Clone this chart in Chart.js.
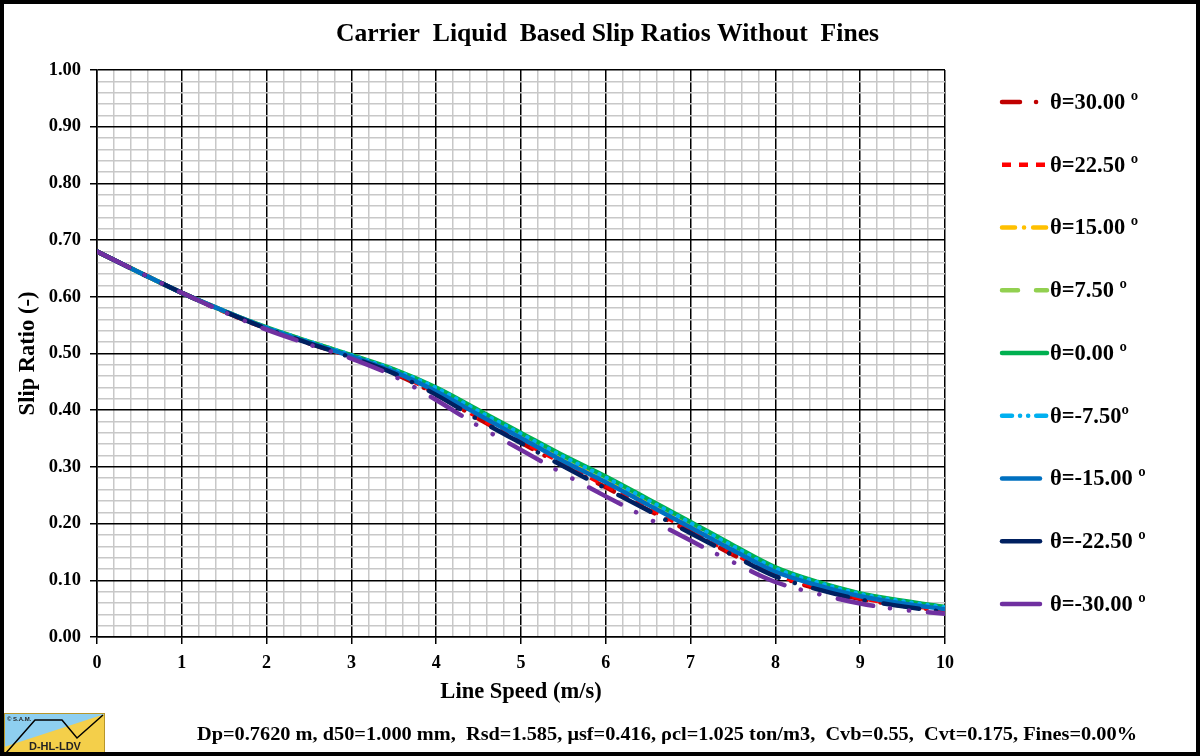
<!DOCTYPE html>
<html lang="en">
<head>
<meta charset="UTF-8">
<title>Carrier Liquid Based Slip Ratios Without Fines</title>
<script src="https://cdn.jsdelivr.net/npm/chart.js@4.4.1/dist/chart.umd.min.js"></script>
<style>
  html, body { margin: 0; padding: 0; background: #ffffff; }
  #wrap { width: 1200px; height: 756px; }
</style>
</head>
<body>
<div id="wrap"><canvas id="c" width="1200" height="756"></canvas></div>
<script>
// line speed (m/s)
const speeds = [0, 0.5, 1, 1.5, 2, 2.5, 3, 3.5, 4, 4.5, 5, 5.5, 6, 6.5, 7, 7.5, 8, 8.5, 9, 9.5, 10];

// slip ratio per inclination angle
const slipP300 = [0.680, 0.643, 0.607, 0.574, 0.544, 0.518, 0.494, 0.465, 0.428, 0.385, 0.343, 0.302, 0.264, 0.224, 0.185, 0.145, 0.109, 0.085, 0.067, 0.055, 0.046];
const slipP225 = [0.680, 0.643, 0.607, 0.574, 0.544, 0.519, 0.494, 0.467, 0.430, 0.387, 0.346, 0.306, 0.267, 0.228, 0.188, 0.148, 0.111, 0.088, 0.069, 0.057, 0.048];
const slipP150 = [0.680, 0.643, 0.607, 0.575, 0.545, 0.520, 0.496, 0.470, 0.436, 0.394, 0.354, 0.314, 0.276, 0.236, 0.196, 0.156, 0.118, 0.093, 0.073, 0.061, 0.051];
const slipP075 = [0.680, 0.643, 0.607, 0.575, 0.546, 0.521, 0.497, 0.471, 0.438, 0.397, 0.357, 0.317, 0.280, 0.240, 0.200, 0.159, 0.121, 0.095, 0.075, 0.062, 0.052];
const slipZero = [0.680, 0.643, 0.607, 0.575, 0.546, 0.521, 0.497, 0.472, 0.440, 0.400, 0.360, 0.320, 0.283, 0.243, 0.203, 0.162, 0.123, 0.097, 0.077, 0.064, 0.053];
const slipM075 = [0.680, 0.643, 0.607, 0.575, 0.546, 0.521, 0.497, 0.471, 0.439, 0.398, 0.358, 0.318, 0.281, 0.241, 0.201, 0.160, 0.121, 0.096, 0.076, 0.063, 0.052];
const slipM150 = [0.680, 0.643, 0.607, 0.575, 0.545, 0.519, 0.495, 0.468, 0.433, 0.392, 0.351, 0.310, 0.273, 0.233, 0.193, 0.153, 0.115, 0.091, 0.072, 0.059, 0.049];
const slipM225 = [0.680, 0.643, 0.607, 0.574, 0.544, 0.518, 0.493, 0.465, 0.427, 0.383, 0.342, 0.301, 0.262, 0.223, 0.183, 0.144, 0.107, 0.084, 0.066, 0.054, 0.044];
const slipM300 = [0.680, 0.643, 0.607, 0.573, 0.542, 0.516, 0.491, 0.460, 0.418, 0.372, 0.330, 0.288, 0.248, 0.209, 0.170, 0.132, 0.097, 0.076, 0.059, 0.048, 0.041];

const seriesLabels = ['θ=30.00 º', 'θ=22.50 º', 'θ=15.00 º', 'θ=7.50 º', 'θ=0.00 º', 'θ=-7.50º', 'θ=-15.00 º', 'θ=-22.50 º', 'θ=-30.00 º'];
const seriesValues = [slipP300, slipP225, slipP150, slipP075, slipZero, slipM075, slipM150, slipM225, slipM300];
const seriesColors = ['#C00000', '#FF0000', '#FFC000', '#92D050', '#00B050', '#00B0F0', '#0070C0', '#002060', '#7030A0'];
const seriesDash = [[18, 14, 0.1, 14], [9, 8], [13, 9, 0.1, 9], [16, 18], [], [0.1, 8], [], [36, 17, 0.1, 19], [36, 17, 0.1, 19, 0.1, 19]];
const seriesCap = ['round', 'butt', 'round', 'round', 'round', 'round', 'round', 'round', 'round'];

// legend samples
const legendDash = [[18, 16, 0.1, 100], [9, 8], [13, 9, 0.1, 9], [16, 18], [], [10, 8, 0.1, 8, 0.1, 8], [], [], []];
const legendLineEnd = [1045, 1048, 1047, 1047, 1047, 1047, 1040, 1040, 1040];

const SERIF = "'Liberation Serif', 'Times New Roman', serif";

const isMajorX = v => Math.abs(v - Math.round(v)) < 1e-6;
const isMajorY = v => Math.abs(v * 10 - Math.round(v * 10)) < 1e-6;

function fitText(ctx, text, x, y, width, align) {
    const w = ctx.measureText(text).width;
    ctx.save();
    ctx.translate(x, y);
    ctx.scale(width / w, 1);
    ctx.textAlign = align;
    ctx.fillText(text, 0, 0);
    ctx.restore();
}

// title, legend, footer, logo and frame
const decorPlugin = {
    id: 'decor',
    afterDraw(chart) {
        const ctx = chart.ctx;
        ctx.save();
        ctx.fillStyle = '#000';
        ctx.textBaseline = 'middle';

        ctx.font = 'bold 25px ' + SERIF;
        fitText(ctx, 'Carrier  Liquid  Based Slip Ratios Without  Fines', 336, 35, 543, 'left');

        // legend
        seriesLabels.forEach((lab, i) => {
            const y = 102 + i * 62.75;
            ctx.save();
            ctx.strokeStyle = seriesColors[i];
            ctx.lineWidth = 4.5;
            ctx.lineCap = seriesCap[i];
            ctx.setLineDash(legendDash[i]);
            ctx.beginPath();
            ctx.moveTo(1002, y);
            ctx.lineTo(legendLineEnd[i], y);
            ctx.stroke();
            ctx.restore();
            ctx.font = 'bold 22.5px ' + SERIF;
            ctx.textAlign = 'left';
            ctx.fillText(lab, 1050, y + 1);
        });

        // footer
        ctx.font = 'bold 19px ' + SERIF;
        fitText(ctx, 'Dp=0.7620 m, d50=1.000 mm,  Rsd=1.585, μsf=0.416, ρcl=1.025 ton/m3,  Cvb=0.55,  Cvt=0.175, Fines=0.00%', 197, 735, 940, 'left');

        // logo
        ctx.fillStyle = '#8ECFF0';
        ctx.fillRect(4, 713, 101, 40);
        ctx.fillStyle = '#F4CF4A';
        ctx.beginPath();
        ctx.moveTo(4, 747); ctx.lineTo(105, 714); ctx.lineTo(105, 753); ctx.lineTo(4, 753);
        ctx.closePath(); ctx.fill();
        ctx.strokeStyle = '#B8962A';
        ctx.lineWidth = 1;
        ctx.strokeRect(4.5, 713.5, 100, 39);
        ctx.strokeStyle = '#000';
        ctx.lineWidth = 1.5;
        ctx.beginPath();
        ctx.moveTo(6, 753); ctx.lineTo(35, 720); ctx.lineTo(62, 720); ctx.lineTo(77, 738); ctx.lineTo(103, 715);
        ctx.stroke();
        ctx.fillStyle = '#222';
        ctx.font = 'bold 6px Arial, sans-serif';
        ctx.fillText('© S.A.M.', 7, 719);
        ctx.font = 'bold 11px "Liberation Sans", Arial, sans-serif';
        ctx.fillText('D-HL-LDV', 29, 747);

        // frame
        ctx.strokeStyle = '#000';
        ctx.lineWidth = 4;
        ctx.setLineDash([]);
        ctx.strokeRect(2, 2, 1196, 752);
        ctx.restore();
    }
};

const datasets = seriesLabels.map((lab, i) => ({
    label: lab,
    data: speeds.map((s, k) => ({ x: s, y: seriesValues[i][k] })),
    borderColor: seriesColors[i],
    backgroundColor: seriesColors[i],
    borderDash: seriesDash[i],
    borderCapStyle: seriesCap[i],
    borderWidth: 4.5,
    pointRadius: 0,
    fill: false,
    cubicInterpolationMode: 'monotone',
    order: 8 - i
}));

new Chart(document.getElementById('c').getContext('2d'), {
    type: 'line',
    data: { datasets: datasets },
    options: {
        responsive: false,
        animation: false,
        devicePixelRatio: 1,
        layout: { padding: { top: 70, right: 255, bottom: 50, left: 0 } },
        plugins: { legend: { display: false }, tooltip: { enabled: false } },
        scales: {
            x: {
                type: 'linear', min: 0, max: 10,
                afterFit: s => { s.height = 69; },
                ticks: {
                    stepSize: 0.2, autoSkip: false, maxRotation: 0, padding: 9, color: '#000',
                    font: { family: SERIF, size: 18, weight: 'bold' },
                    callback: v => isMajorX(v) ? String(Math.round(v)) : ''
                },
                grid: {
                    color: c => isMajorX(c.tick.value) ? '#000' : '#c8c8c8',
                    lineWidth: 1.5,
                    tickLength: 7,
                    tickColor: c => isMajorX(c.tick.value) ? '#000' : 'rgba(0,0,0,0)'
                },
                border: { color: '#000', width: 1.5 },
                title: { display: true, text: 'Line Speed (m/s)', color: '#000', padding: 0,
                         font: { family: SERIF, size: 22.5, weight: 'bold' } }
            },
            y: {
                min: 0, max: 1,
                afterFit: s => { s.width = 97; },
                ticks: {
                    stepSize: 0.02, autoSkip: false, padding: 9, color: '#000',
                    font: { family: SERIF, size: 18.5, weight: 'bold' },
                    callback: v => isMajorY(v) ? v.toFixed(2) : ''
                },
                grid: {
                    color: c => isMajorY(c.tick.value) ? '#000' : '#c8c8c8',
                    lineWidth: 1.5,
                    tickLength: 7,
                    tickColor: c => isMajorY(c.tick.value) ? '#000' : 'rgba(0,0,0,0)'
                },
                border: { color: '#000', width: 1.5 },
                title: { display: true, text: 'Slip Ratio (-)', color: '#000', padding: { top: 15, bottom: 0 },
                         font: { family: SERIF, size: 22.5, weight: 'bold' } }
            }
        }
    },
    plugins: [decorPlugin]
});
</script>
</body>
</html>
